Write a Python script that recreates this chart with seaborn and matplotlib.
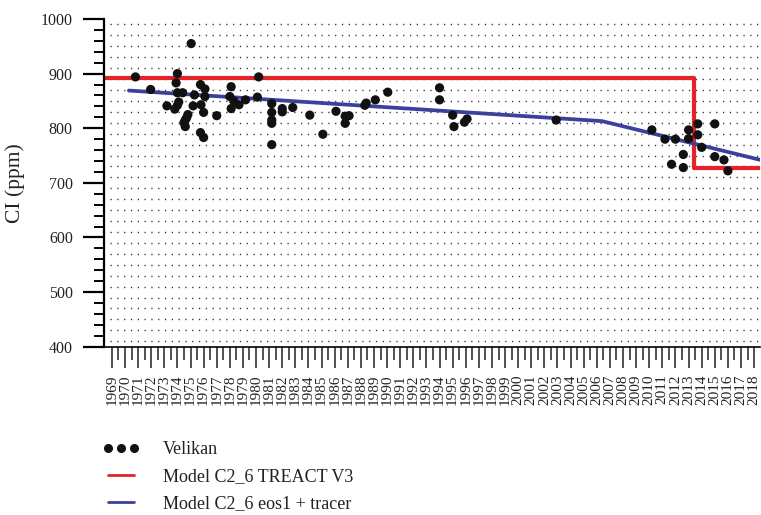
import matplotlib
matplotlib.use("Agg")
import matplotlib.pyplot as plt
from matplotlib.lines import Line2D
from matplotlib.ticker import MultipleLocator, FixedLocator
import numpy as np
import pandas as pd
import seaborn as sns

# Velikan measurements (year, Cl in ppm)
velikan_year = [
    1970.8, 1971.96, 1973.2, 1973.8, 1973.9, 1974.0, 1974.0, 1974.1, 1974.0, 1974.4,
    1974.5, 1974.6, 1974.7, 1974.8, 1974.6, 1975.05, 1975.2, 1975.3, 1975.76, 1975.8,
    1975.76, 1976.0, 1976.0, 1976.1, 1976.1, 1977.0, 1978.1, 1978.0, 1978.1, 1978.3,
    1978.7, 1979.2, 1980.1, 1980.2, 1981.2, 1981.2, 1981.2, 1981.2, 1981.2, 1982.0,
    1982.0, 1982.8, 1984.1, 1985.1, 1986.1, 1986.8, 1986.8, 1987.1, 1988.3, 1988.4,
    1989.1, 1990.05, 1994.0, 1994.0, 1995.0, 1995.1, 1995.9, 1996.1, 2002.9, 2010.2,
    2011.2, 2012.0, 2011.7, 2012.6, 2012.6, 2013.0, 2013.0, 2013.7, 2013.7, 2014.0,
    2015.0, 2015.0, 2015.7, 2016.0,
]
velikan_ci = [
    894, 871, 841, 835, 883, 900, 865, 848, 842, 865,
    810, 803, 819, 825, 815, 955, 841, 861, 880, 843,
    792, 783, 829, 872, 858, 823, 876, 858, 836, 850,
    843, 852, 857, 894, 845, 829, 815, 809, 770, 836,
    830, 838, 824, 789, 831, 822, 809, 823, 842, 846,
    852, 866, 874, 852, 824, 803, 811, 817, 815, 797,
    780, 780, 734, 752, 728, 797, 781, 808, 788, 765,
    808, 748, 742, 722,
]

# Model C2_6 TREACT V3 (stepwise)
treact_year = [1968.0, 2013.45, 2019.0]
treact_ci = [892, 728, 728]

# Model C2_6 eos1 + tracer
eos_year = [1970.3, 2006.4, 2019.0]
eos_ci = [869, 813, 739]

tick_years = list(range(1969, 2019))

sns.set_theme(style="white")
plt.rcParams["font.family"] = ["Liberation Serif", "DejaVu Serif"]

fig = plt.figure(figsize=(7.61, 5.15), dpi=100)
ax = fig.add_axes([104 / 761, 1 - 346.7 / 515, 656 / 761, (346.7 - 19) / 515])

x_lo, x_hi = 1968.4, 2018.45
ax.set_xlim(x_lo, x_hi)
ax.set_ylim(400, 1000)

# dotted background lattice
ax.hlines(np.arange(410, 1000, 20), x_lo + 0.45, x_hi, colors="#2e2e2e",
          linewidth=1.0, linestyles=[(0, (0.9, 4.0))], zorder=0)

red = "#e52228"
blue = "#3a419c"

sns.lineplot(x=treact_year, y=treact_ci, ax=ax, color=red, linewidth=3.0,
             drawstyle="steps-post", sort=False, estimator=None, zorder=2)
sns.lineplot(x=eos_year, y=eos_ci, ax=ax, color=blue, linewidth=2.7,
             sort=False, estimator=None, zorder=3)
sns.scatterplot(x=velikan_year, y=velikan_ci, ax=ax, color="#111111", s=44,
                edgecolor="none", zorder=4)

# axes styling
for side in ("top", "right"):
    ax.spines[side].set_visible(False)
ax.spines["left"].set_linewidth(1.6)
ax.spines["bottom"].set_linewidth(1.2)
ax.spines["left"].set_color("black")
ax.spines["bottom"].set_color("black")

ax.yaxis.set_major_locator(MultipleLocator(100))
ax.yaxis.set_minor_locator(MultipleLocator(20))
ax.tick_params(axis="y", which="major", direction="out", length=15, width=1.6,
               color="black", labelsize=11.5, pad=7.5, left=True)
ax.tick_params(axis="y", which="minor", direction="out", length=7.5, width=1.4,
               color="black", left=True)

ax.xaxis.set_major_locator(FixedLocator(tick_years))
ax.xaxis.set_minor_locator(FixedLocator([y + 0.5 for y in tick_years[:-1]]))
ax.set_xticks(tick_years)
ax.set_xticklabels([str(y) for y in tick_years], rotation=90)
ax.tick_params(axis="x", which="major", direction="out", length=15, width=1.1,
               color="#222222", labelsize=11, pad=5, bottom=True)
ax.tick_params(axis="x", which="minor", direction="out", length=9, width=1.1,
               color="#222222", bottom=True)

ax.set_ylabel("CI (ppm)", fontsize=15.5, color="#222222")
ax.yaxis.set_label_coords(-0.121, 0.5)
ax.set_xlabel("")

for lab in ax.get_xticklabels() + ax.get_yticklabels():
    lab.set_color("#222222")

handles = [
    Line2D([], [], linestyle="none", marker="o", color="#111111", markersize=5.5),
    Line2D([], [], color=red, linewidth=2.0),
    Line2D([], [], color=blue, linewidth=2.0),
]
labels = ["Velikan", "Model C2_6 TREACT V3", "Model C2_6 eos1 + tracer"]
leg = fig.legend(handles, labels, loc="upper left",
                 bbox_to_anchor=(103 / 761, 1 - 441 / 515),
                 frameon=False, fontsize=13, borderpad=0, borderaxespad=0,
                 handlelength=2.0, handletextpad=1.3, labelspacing=0.55,
                 numpoints=3)
for t in leg.get_texts():
    t.set_color("#222222")

fig.savefig("out.png", dpi=100)
